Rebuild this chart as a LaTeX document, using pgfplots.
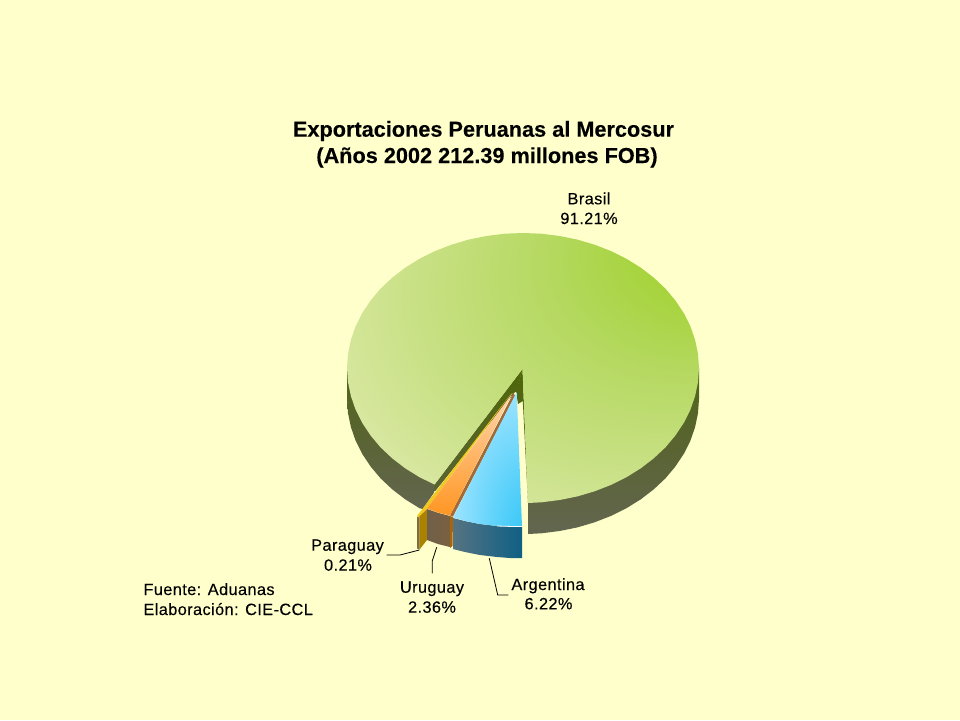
\documentclass[border=0pt]{standalone}
\usepackage{fontspec}
\usepackage{pgfplots}
\pgfplotsset{compat=1.18}
\setmainfont{Liberation Sans}
\newfontfamily\labfont[LetterSpace=2.5,FakeBold=0.25]{Liberation Sans}
\newfontfamily\titlefont[FakeBold=0.2]{Liberation Sans Bold}

\definecolor{fondo}{HTML}{FFFFCC}
\definecolor{sideA}{HTML}{4F661A}
\definecolor{sideB}{HTML}{5A6433}
\definecolor{sideC}{HTML}{636650}
\definecolor{cutA}{HTML}{4F6608}

% Brasil: bright spot up and to the right, pale towards the rim
\pgfdeclareradialshading{brasil}{\pgfpoint{34.7bp}{28.7bp}}{%
  rgb(0bp)=(0.61,0.81,0.13);
  rgb(8bp)=(0.63,0.82,0.18);
  rgb(20bp)=(0.71,0.85,0.38);
  rgb(30bp)=(0.775,0.875,0.50);
  rgb(38bp)=(0.83,0.90,0.60);
  rgb(46bp)=(0.894,0.933,0.72);
  rgb(60bp)=(0.894,0.933,0.72)}
\pgfdeclareradialshading{argentina}{\pgfpoint{40bp}{-38bp}}{%
  rgb(0bp)=(0.10,0.745,0.96);
  rgb(21bp)=(0.35,0.82,0.98);
  rgb(40bp)=(0.59,0.886,1);
  rgb(52bp)=(0.667,0.91,1);
  rgb(75bp)=(0.667,0.91,1)}

\begin{document}
\begin{tikzpicture}
\begin{axis}[
    scale only axis, width=960pt, height=720pt,
    xmin=0, xmax=960, ymin=0, ymax=720,
    y dir=reverse, hide axis, no markers,
  ]
% fondo
\addplot[draw=none, fill=fondo] coordinates {(0,0)(960,0)(960,720)(0,720)} -- cycle;

% Brasil, side walls
\addplot[draw=none, top color=sideA, bottom color=sideC, middle color=sideB] coordinates {
  (347,368)(347,399)(348,413.1)(350.9,427.1)(355.6,440.7)(362.2,453.9)(370.6,466.5)
  (380.6,478.4)(392.2,489.3)(405.2,499.3)(419.5,508.2)(422.7,509)(434.5,492)(434.5,484.5)} -- cycle;
\addplot[draw=none, top color=sideA, bottom color=sideC, middle color=sideB] coordinates {
  (699,368)(699,399)(698,413.1)(695.1,427.1)(690.4,440.7)(683.8,453.9)(675.4,466.5)
  (665.4,478.4)(653.8,489.3)(640.8,499.3)(626.5,508.2)(611,515.9)(594.6,522.3)
  (577.4,527.4)(559.6,531)(541.4,533.3)(528,534)(528,503)} -- cycle;

% Brasil, inner faces of the cut
\addplot[draw=none, top color=cutA, bottom color=sideB] coordinates {
  (522.5,369)(434.5,484.5)(434.5,492)(515,392)(516.5,392)} -- cycle;
\addplot[draw=none, top color=cutA, bottom color=sideB] coordinates {
  (522.5,369)(516,392)(518,404)(522.8,401)(528,503)} -- cycle;

% Brasil, top
\addplot[draw=none, shading=brasil] coordinates {
  (528,503)(541.4,502.3)(559.6,500)(577.4,496.4)(594.6,491.3)(611,484.9)(626.5,477.2)
  (640.8,468.3)(653.8,458.3)(665.4,447.4)(675.4,435.5)(683.8,422.9)(690.4,409.7)
  (695.1,396.1)(698,382.1)(699,368)(698,353.9)(695.1,339.9)(690.4,326.3)(683.8,313.1)
  (675.4,300.5)(665.4,288.6)(653.8,277.7)(640.8,267.7)(626.5,258.8)(611,251.1)
  (594.6,244.7)(577.4,239.6)(559.6,236)(541.4,233.7)(523,233)(504.6,233.7)(486.4,236)
  (468.6,239.6)(451.4,244.7)(435,251.1)(419.5,258.8)(405.2,267.7)(392.2,277.7)
  (380.6,288.6)(370.6,300.5)(362.2,313.1)(355.6,326.3)(350.9,339.9)(348,353.9)(347,368)
  (348,382.1)(350.9,396.1)(355.6,409.7)(362.2,422.9)(370.6,435.5)(380.6,447.4)
  (392.2,458.3)(405.2,468.3)(419.5,477.2)(434.5,484.5)(522.5,369)} -- cycle;

% Paraguay
\addplot[draw=none, fill={rgb,255:red,125;green,110;blue,60}] coordinates {(417,517)(419.5,516)(419.5,549.5)(417,548.5)} -- cycle;
\addplot[draw=none, fill={rgb,255:red,170;green,130;blue,0}] coordinates {(419.5,516)(427,509)(427,540)(419.5,549.5)} -- cycle;
\addplot[draw=none, fill={rgb,255:red,240;green,200;blue,32}] coordinates {(511.5,393)(427,508.5)(418,517.5)(417,516)} -- cycle;

% Uruguay
\addplot[draw=none, left color={rgb,255:red,112;green,96;blue,74}, middle color={rgb,255:red,138;green,86;blue,50}, right color={rgb,255:red,122;green,96;blue,64}] coordinates {
  (427,509)(438,512.8)(450,516)(450,547)(438,544)(427,540)} -- cycle;
\addplot[draw=none, fill={rgb,255:red,168;green,101;blue,10}] coordinates {(450,516)(453,517)(452.5,546)(450,548)} -- cycle;
\addplot[draw=none, fill={rgb,255:red,160;green,106;blue,58}] coordinates {(513.5,393)(450,515.5)(453,516.5)(515,396)} -- cycle;
\addplot[draw=none, top color={rgb,255:red,255;green,214;blue,175}, middle color={rgb,255:red,255;green,190;blue,125}, bottom color={rgb,255:red,255;green,150;blue,34}] coordinates {
  (512.5,393)(450,515.5)(438,512.5)(427,508.5)} -- cycle;

% Argentina
\addplot[draw=none, left color={rgb,255:red,85;green,115;blue,130}, right color={rgb,255:red,15;green,96;blue,133}] coordinates {
  (453,518)(465,521)(480,524)(497,526)(510,526.4)(522,526.5)(522,558)(510,558)(497,557)(480,555)(465,552)(453,549)} -- cycle;
\addplot[draw=none, shading=argentina] coordinates {
  (516.7,392)(522,526.5)(510,526.4)(497,526)(480,524)(465,521)(453,517.5)} -- cycle;
\addplot[white, line width=0.8pt] coordinates {(497,526)(510,526.4)(522,526.5)};

% leader lines
\addplot[black, line width=0.8pt] coordinates {(386.7,555)(400,555)(419.3,550)};
\addplot[black, line width=0.8pt] coordinates {(436.7,547.3)(432.3,560.7)(432.3,573.3)};
\addplot[black, line width=0.8pt] coordinates {(489.3,558.3)(497.7,595)(508.3,595)};

% title
\node[anchor=base, font=\titlefont\fontsize{21.7}{24}\selectfont] at (483.5,136.7) {Exportaciones Peruanas al Mercosur};
\node[anchor=base, font=\titlefont\fontsize{21.7}{24}\selectfont] at (487,163) {(Años 2002 212.39 millones FOB)};

% labels
\node[anchor=base, font=\labfont\fontsize{16.3}{19}\selectfont] at (589,204.3) {Brasil};
\node[anchor=base, font=\labfont\fontsize{16.3}{19}\selectfont] at (589,224) {91.21\%};
\node[anchor=base, font=\labfont\fontsize{16.3}{19}\selectfont] at (347.5,550.7) {Paraguay};
\node[anchor=base, font=\labfont\fontsize{16.3}{19}\selectfont] at (348,570.7) {0.21\%};
\node[anchor=base, font=\labfont\fontsize{16.3}{19}\selectfont] at (432,592.7) {Uruguay};
\node[anchor=base, font=\labfont\fontsize{16.3}{19}\selectfont] at (432,612.7) {2.36\%};
\node[anchor=base, font=\labfont\fontsize{16.3}{19}\selectfont] at (548,590) {Argentina};
\node[anchor=base, font=\labfont\fontsize{16.3}{19}\selectfont] at (548.5,609.3) {6.22\%};
\node[anchor=base west, inner sep=0pt, font=\labfont\fontsize{16.3}{19}\selectfont] at (143.3,595) {Fuente: Aduanas};
\node[anchor=base west, inner sep=0pt, font=\labfont\fontsize{16.3}{19}\selectfont] at (143.3,615) {Elaboración: CIE-CCL};
\end{axis}
\end{tikzpicture}
\end{document}
